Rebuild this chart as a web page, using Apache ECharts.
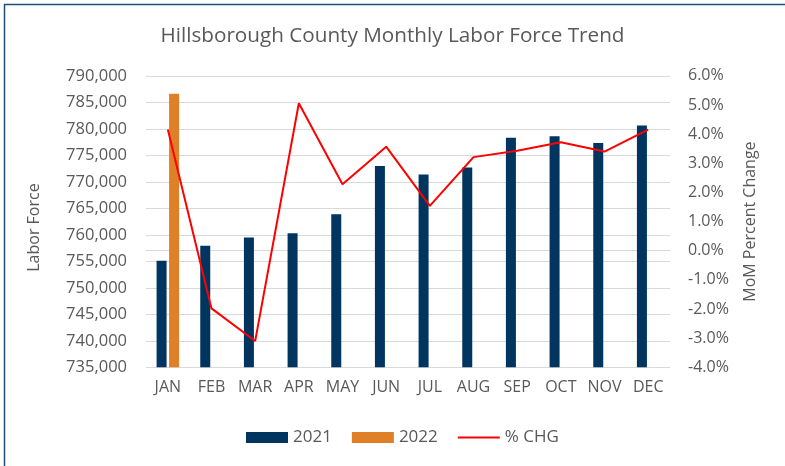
<!DOCTYPE html>
<html>
<head>
<meta charset="utf-8">
<script src="https://cdn.jsdelivr.net/npm/echarts@6/dist/echarts.min.js"></script>
<style>
html,body{margin:0;padding:0;background:#fff;}
#chart{width:785px;height:466px;}
</style>
</head>
<body>
<div id="chart"></div>
<script>
const months = ['JAN','FEB','MAR','APR','MAY','JUN','JUL','AUG','SEP','OCT','NOV','DEC'];
const labor2021 = [755100, 757950, 759500, 760300, 763900, 773000, 771400, 772700, 778300, 778600, 777300, 780600];
const labor2022 = [786600, null, null, null, null, null, null, null, null, null, null, null];
const pctChg = [4.16, -1.98, -3.10, 5.06, 2.28, 3.57, 1.54, 3.21, 3.43, 3.72, 3.40, 4.15];

const FONT = '"Open Sans", sans-serif';
const TXT = '#595959';

const chart = echarts.init(document.getElementById('chart'));
chart.setOption({
  animation: false,
  backgroundColor: '#ffffff',
  textStyle: { fontFamily: FONT },
  title: {
    text: 'Hillsborough County Monthly Labor Force Trend',
    left: 'center',
    top: 21,
    textStyle: { fontFamily: FONT, fontSize: 20.7, fontWeight: 'normal', color: TXT }
  },
  graphic: [{
    type: 'rect',
    shape: { x: 4.5, y: 4.5, width: 800, height: 480 },
    style: { fill: 'none', stroke: '#1F4E79', lineWidth: 1.5 },
    silent: true
  }],
  legend: {
    left: 241,
    top: 424,
    itemWidth: 42,
    itemHeight: 11,
    itemGap: 20,
    textStyle: { fontFamily: FONT, fontSize: 17, color: TXT },
    data: [
      { name: '2021', icon: 'rect' },
      { name: '2022', icon: 'rect' },
      { name: '% CHG', icon: 'path://M0,0H42V2H0Z' }
    ]
  },
  grid: { left: 146, right: 115, top: 75.8, bottom: 98.7, containLabel: false },
  xAxis: {
    type: 'category',
    data: months,
    axisLine: { lineStyle: { color: '#D9D9D9', width: 1 } },
    axisTick: { show: false },
    axisLabel: { color: TXT, fontFamily: FONT, fontSize: 16, margin: 12, interval: 0 }
  },
  yAxis: [{
    type: 'value',
    min: 735000,
    max: 790000,
    interval: 5000,
    name: 'Labor Force',
    nameLocation: 'middle',
    nameRotate: 90,
    nameGap: 104,
    nameTextStyle: { color: TXT, fontFamily: FONT, fontSize: 16, padding: [0, 12, 0, 0] },
    axisLine: { show: false },
    axisTick: { show: false },
    splitLine: { lineStyle: { color: '#D9D9D9', width: 1 } },
    axisLabel: {
      color: TXT, fontFamily: FONT, fontSize: 16.5, margin: 19,
      formatter: v => v.toLocaleString('en-US')
    }
  }, {
    type: 'value',
    min: -4,
    max: 6,
    interval: 1,
    position: 'right',
    name: 'MoM Percent Change',
    nameLocation: 'middle',
    nameRotate: 90,
    nameGap: 72,
    nameTextStyle: { color: TXT, fontFamily: FONT, fontSize: 16 },
    axisLine: { show: false },
    axisTick: { show: false },
    splitLine: { show: false },
    axisLabel: {
      color: TXT, fontFamily: FONT, fontSize: 16, margin: 18,
      formatter: v => v.toFixed(1) + '%'
    }
  }],
  series: [{
    name: '2021',
    type: 'bar',
    data: labor2021,
    barWidth: 10,
    barGap: '25%',
    itemStyle: { color: '#00355F' }
  }, {
    name: '2022',
    type: 'bar',
    data: labor2022,
    barWidth: 10,
    barGap: '25%',
    itemStyle: { color: '#DF7F28' }
  }, {
    name: '% CHG',
    type: 'line',
    yAxisIndex: 1,
    data: pctChg,
    symbol: 'none',
    lineStyle: { color: '#FF0000', width: 2 },
    itemStyle: { color: '#FF0000' }
  }]
});
</script>
</body>
</html>
